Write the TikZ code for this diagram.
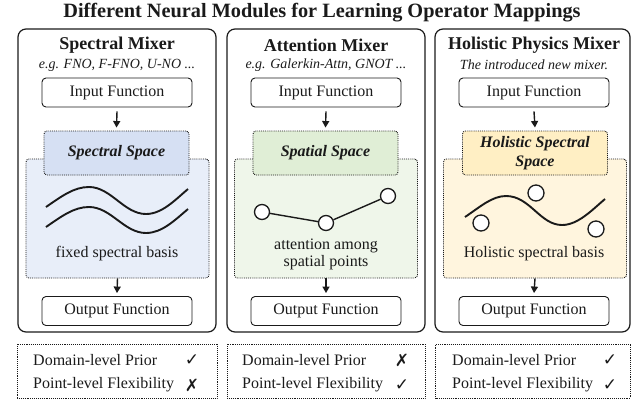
\documentclass[tikz,border=0pt]{standalone}
\usepackage{fontspec}
\setmainfont{Liberation Serif}
\newfontfamily\symfont{DejaVu Sans}
\usetikzlibrary{arrows.meta}
\definecolor{bluehead}{HTML}{D6E0F3}
\definecolor{bluebody}{HTML}{E8EEF9}
\definecolor{greenhead}{HTML}{E0EED6}
\definecolor{greenbody}{HTML}{EFF6EA}
\definecolor{yellowhead}{HTML}{FFEFC4}
\definecolor{yellowbody}{HTML}{FFF5DE}
\definecolor{ink}{HTML}{1A1A1A}
\begin{document}
\begin{tikzpicture}[x=1pt,y=-1pt,
  panel/.style={draw=ink, line width=1.2pt, rounded corners=8pt, minimum width=198pt, minimum height=303pt, inner sep=0pt},
  ptitle/.style={font=\fontsize{18}{21}\selectfont\bfseries, text=ink, inner sep=0pt},
  psub/.style={font=\fontsize{14}{16}\selectfont\itshape, text=ink, inner sep=0pt},
  iobox/.style={draw=ink, line width=0.9pt, rounded corners=4pt, minimum width=150pt, minimum height=29pt, inner sep=0pt, font=\fontsize{16}{19}\selectfont, text=ink},
  headbox/.style={draw=ink, densely dotted, line width=0.9pt, rounded corners=3pt, minimum width=145pt, minimum height=44pt, inner sep=0pt, font=\fontsize{16}{19}\selectfont\bfseries\itshape, align=center, text=ink},
  bigbox/.style={draw=ink, densely dotted, line width=0.9pt, rounded corners=3pt, minimum width=183pt, minimum height=119pt, inner sep=0pt},
  caption/.style={font=\fontsize{16}{19}\selectfont, align=center, text=ink, inner sep=0pt},
  flow/.style={-{Triangle[length=6.5pt,width=7pt]}, line width=1.4pt, draw=ink},
  curve/.style={line width=1.9pt, draw=ink},
  dot/.style={circle, draw=ink, line width=1.3pt, fill=white, minimum size=15pt, inner sep=0pt},
  propbox/.style={draw=ink, densely dotted, line width=0.9pt, minimum height=54pt, inner sep=0pt},
  proptext/.style={font=\fontsize{16}{19}\selectfont, text=ink, anchor=west, inner sep=0pt},
  checkmark/.style={font=\fontsize{17}{19}\selectfont\symfont\bfseries, text=ink, inner sep=0pt}
]
\useasboundingbox (0,0) rectangle (632,400);

% title
\node[font=\fontsize{20.3}{24}\selectfont\bfseries, text=ink, inner sep=0pt] (title) at (322,13) {Different Neural Modules for Learning Operator Mappings};

% ---------- Panel 1 ----------
\node[panel] (p1) at (117,180.5) {};
\node[ptitle] (t1) at (117,45) {Spectral Mixer};
\node[psub] (s1) at (117,65) {e.g. FNO, F-FNO, U-NO ...};
\node[iobox] (in1) at (117,92.5) {Input Function};
\node[bigbox, fill=bluebody] (b1) at (117.5,218.5) {};
\node[headbox, fill=bluehead] (h1) at (116.5,153) {Spectral Space};
\node[iobox] (out1) at (117,311) {Output Function};
\draw[flow] ([yshift=-4pt]in1.south) -- ([yshift=3pt]h1.north);
\draw[flow] (b1.south) -- ([yshift=3pt]out1.north);
\draw[curve] (46,207) .. controls (62,196) and (74,187) .. (89,187) .. controls (111,187) and (124,214) .. (146,214) .. controls (162,214) and (175,200) .. (188,189);
\draw[curve] (46,227) .. controls (62,216) and (74,207) .. (89,207) .. controls (111,207) and (124,233) .. (146,233) .. controls (162,233) and (175,220) .. (188,209);
\node[caption] (c1) at (117,254) {fixed spectral basis};

% ---------- Panel 2 ----------
\node[panel] (p2) at (326,180.5) {};
\node[ptitle] (t2) at (326,45) {Attention Mixer};
\node[psub] (s2) at (326,65) {e.g. Galerkin-Attn, GNOT ...};
\node[iobox] (in2) at (326,92.5) {Input Function};
\node[bigbox, fill=greenbody] (b2) at (326,218.5) {};
\node[headbox, fill=greenhead] (h2) at (325.5,153) {Spatial Space};
\node[iobox] (out2) at (326,311) {Output Function};
\draw[flow] ([yshift=-4pt]in2.south) -- ([yshift=3pt]h2.north);
\draw[flow] (b2.south) -- ([yshift=3pt]out2.north);
\node[dot] (a1) at (262,212) {};
\node[dot] (a2) at (326,223) {};
\node[dot] (a3) at (388,196) {};
\draw[line width=1.4pt, draw=ink] (a1) -- (a2) -- (a3);
\node[caption] (c2) at (326,254) {attention among\\[-2pt]spatial points};

% ---------- Panel 3 ----------
\node[panel, minimum width=195pt] (p3) at (532.5,180.5) {};
\node[ptitle] (t3) at (534,45) {Holistic Physics Mixer};
\node[psub] (s3) at (534,65) {The introduced new mixer.};
\node[iobox] (in3) at (534,92.5) {Input Function};
\node[bigbox, fill=yellowbody] (b3) at (535,218.5) {};
\node[headbox, fill=yellowhead] (h3) at (535,153) {Holistic Spectral\\Space};
\node[iobox] (out3) at (534,311) {Output Function};
\draw[flow] ([yshift=-4pt]in3.south) -- ([yshift=3pt]h3.north);
\draw[flow] (b3.south) -- ([yshift=3pt]out3.north);
\draw[curve] (465,217) .. controls (480,207) and (492,196) .. (506,196) .. controls (530,196) and (540,225) .. (562,225) .. controls (578,225) and (592,210) .. (605,199);
\node[dot, minimum size=16pt] (d1) at (536,193) {};
\node[dot, minimum size=16pt] (d2) at (481,223) {};
\node[dot, minimum size=16pt] (d3) at (596,229) {};
\node[caption] (c3) at (534,254) {Holistic spectral basis};

% ---------- Property boxes ----------
\node[propbox, minimum width=200pt] (q1) at (117,371) {};
\node[proptext] (q1a) at (33,360) {Domain-level Prior};
\node[proptext] (q1b) at (33,385) {Point-level Flexibility};
\node[checkmark] (m1a) at (192,360) {✓};
\node[checkmark] (m1b) at (192,385) {✗};

\node[propbox, minimum width=198pt] (q2) at (326,371) {};
\node[proptext] (q2a) at (242,360) {Domain-level Prior};
\node[proptext] (q2b) at (242,385) {Point-level Flexibility};
\node[checkmark] (m2a) at (402,360) {✗};
\node[checkmark] (m2b) at (402,385) {✓};

\node[propbox, minimum width=195pt] (q3) at (533,371) {};
\node[proptext] (q3a) at (452,360) {Domain-level Prior};
\node[proptext] (q3b) at (452,385) {Point-level Flexibility};
\node[checkmark] (m3a) at (610,360) {✓};
\node[checkmark] (m3b) at (610,385) {✓};
\end{tikzpicture}
\end{document}
